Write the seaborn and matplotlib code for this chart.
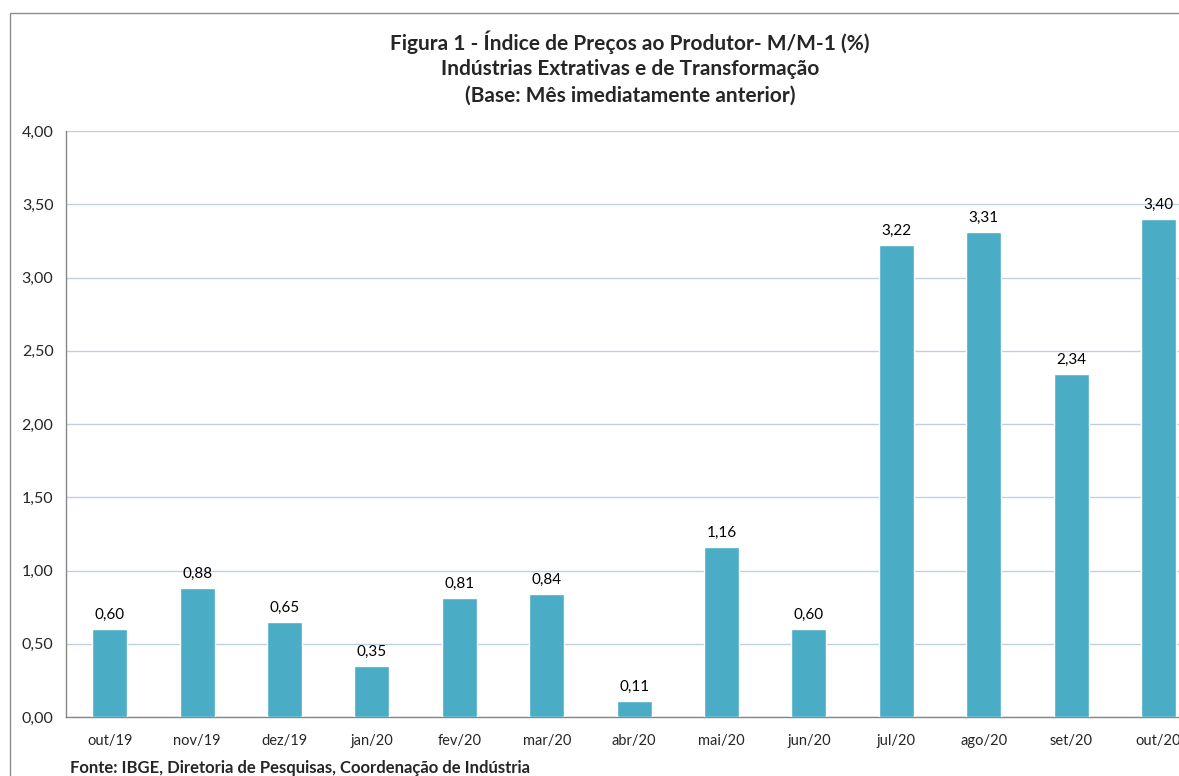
import matplotlib.pyplot as plt
import matplotlib.patches as mpatches
import seaborn as sns
import pandas as pd

# Data
months = ['out/19', 'nov/19', 'dez/19', 'jan/20', 'fev/20', 'mar/20', 'abr/20',
          'mai/20', 'jun/20', 'jul/20', 'ago/20', 'set/20', 'out/20']
values = [0.60, 0.88, 0.65, 0.35, 0.81, 0.84, 0.11, 1.16, 0.60, 3.22, 3.31, 2.34, 3.40]
yticks = [0.0, 0.5, 1.0, 1.5, 2.0, 2.5, 3.0, 3.5, 4.0]

df = pd.DataFrame({'mes': months, 'valor': values})

sns.set_style('white')
plt.rcParams['font.family'] = ['Lato', 'DejaVu Sans']

W, H = 1179, 776
fig = plt.figure(figsize=(W / 100, H / 100), dpi=100)

# plot area in pixels: left 66, bottom y=717, top y=131, step 87.4 px per month
step = 87.4
ax = fig.add_axes([66 / W, (H - 717) / H, step * 13 / W, (717 - 131) / H])

sns.barplot(data=df, x='mes', y='valor', color='#4BACC6', width=0.4,
            saturation=1, ax=ax, zorder=3)

labels = [f'{v:.2f}'.replace('.', ',') for v in values]
ax.bar_label(ax.containers[0], labels=labels, padding=5, fontsize=11, color='#000000')

ax.set_xlim(-0.5, 12.5)
ax.set_ylim(0, 4)
ax.set_yticks(yticks)
ax.set_yticklabels([f'{t:.2f}'.replace('.', ',') for t in yticks], fontsize=11.5)
ax.yaxis.grid(True, color='#BFD0E4', linewidth=1, zorder=0)
ax.set_axisbelow(True)

ax.set_xticks(range(len(months)))
ax.set_xticklabels(months, fontsize=10.5)
ax.set_xticks([i - 0.5 for i in range(len(months) + 1)], minor=True)
ax.tick_params(axis='x', which='major', length=0, pad=12)
ax.tick_params(axis='x', which='minor', length=5, color='#868686', direction='out')
ax.tick_params(axis='y', length=5, color='#868686', direction='out', pad=4)
ax.set_xlabel('')
ax.set_ylabel('')

for side in ['top', 'right']:
    ax.spines[side].set_visible(False)
for side in ['left', 'bottom']:
    ax.spines[side].set_color('#868686')
    ax.spines[side].set_linewidth(1)

# Title
fig.text(630 / W, 1 - 42 / H, 'Figura 1 - Índice de Preços ao Produtor- M/M-1 (%)',
         ha='center', va='center', fontsize=15, fontweight='bold')
fig.text(630 / W, 1 - 69 / H, 'Indústrias Extrativas e de Transformação',
         ha='center', va='center', fontsize=15, fontweight='bold')
fig.text(630 / W, 1 - 96 / H, '(Base: Mês imediatamente anterior)',
         ha='center', va='center', fontsize=15, fontweight='bold')

# Source
fig.text(70 / W, 1 - 768 / H, 'Fonte: IBGE, Diretoria de Pesquisas, Coordenação de Indústria',
         ha='left', va='center', fontsize=12, fontweight='bold')

# outer chart frame (cropped at right and bottom)
frame = mpatches.Rectangle((10 / W, -0.1), 1.2, 1 - 13 / H + 0.1,
                           transform=fig.transFigure, fill=False,
                           edgecolor='#8C8C8C', linewidth=1)
fig.patches.append(frame)

fig.savefig('out.png', dpi=100)
